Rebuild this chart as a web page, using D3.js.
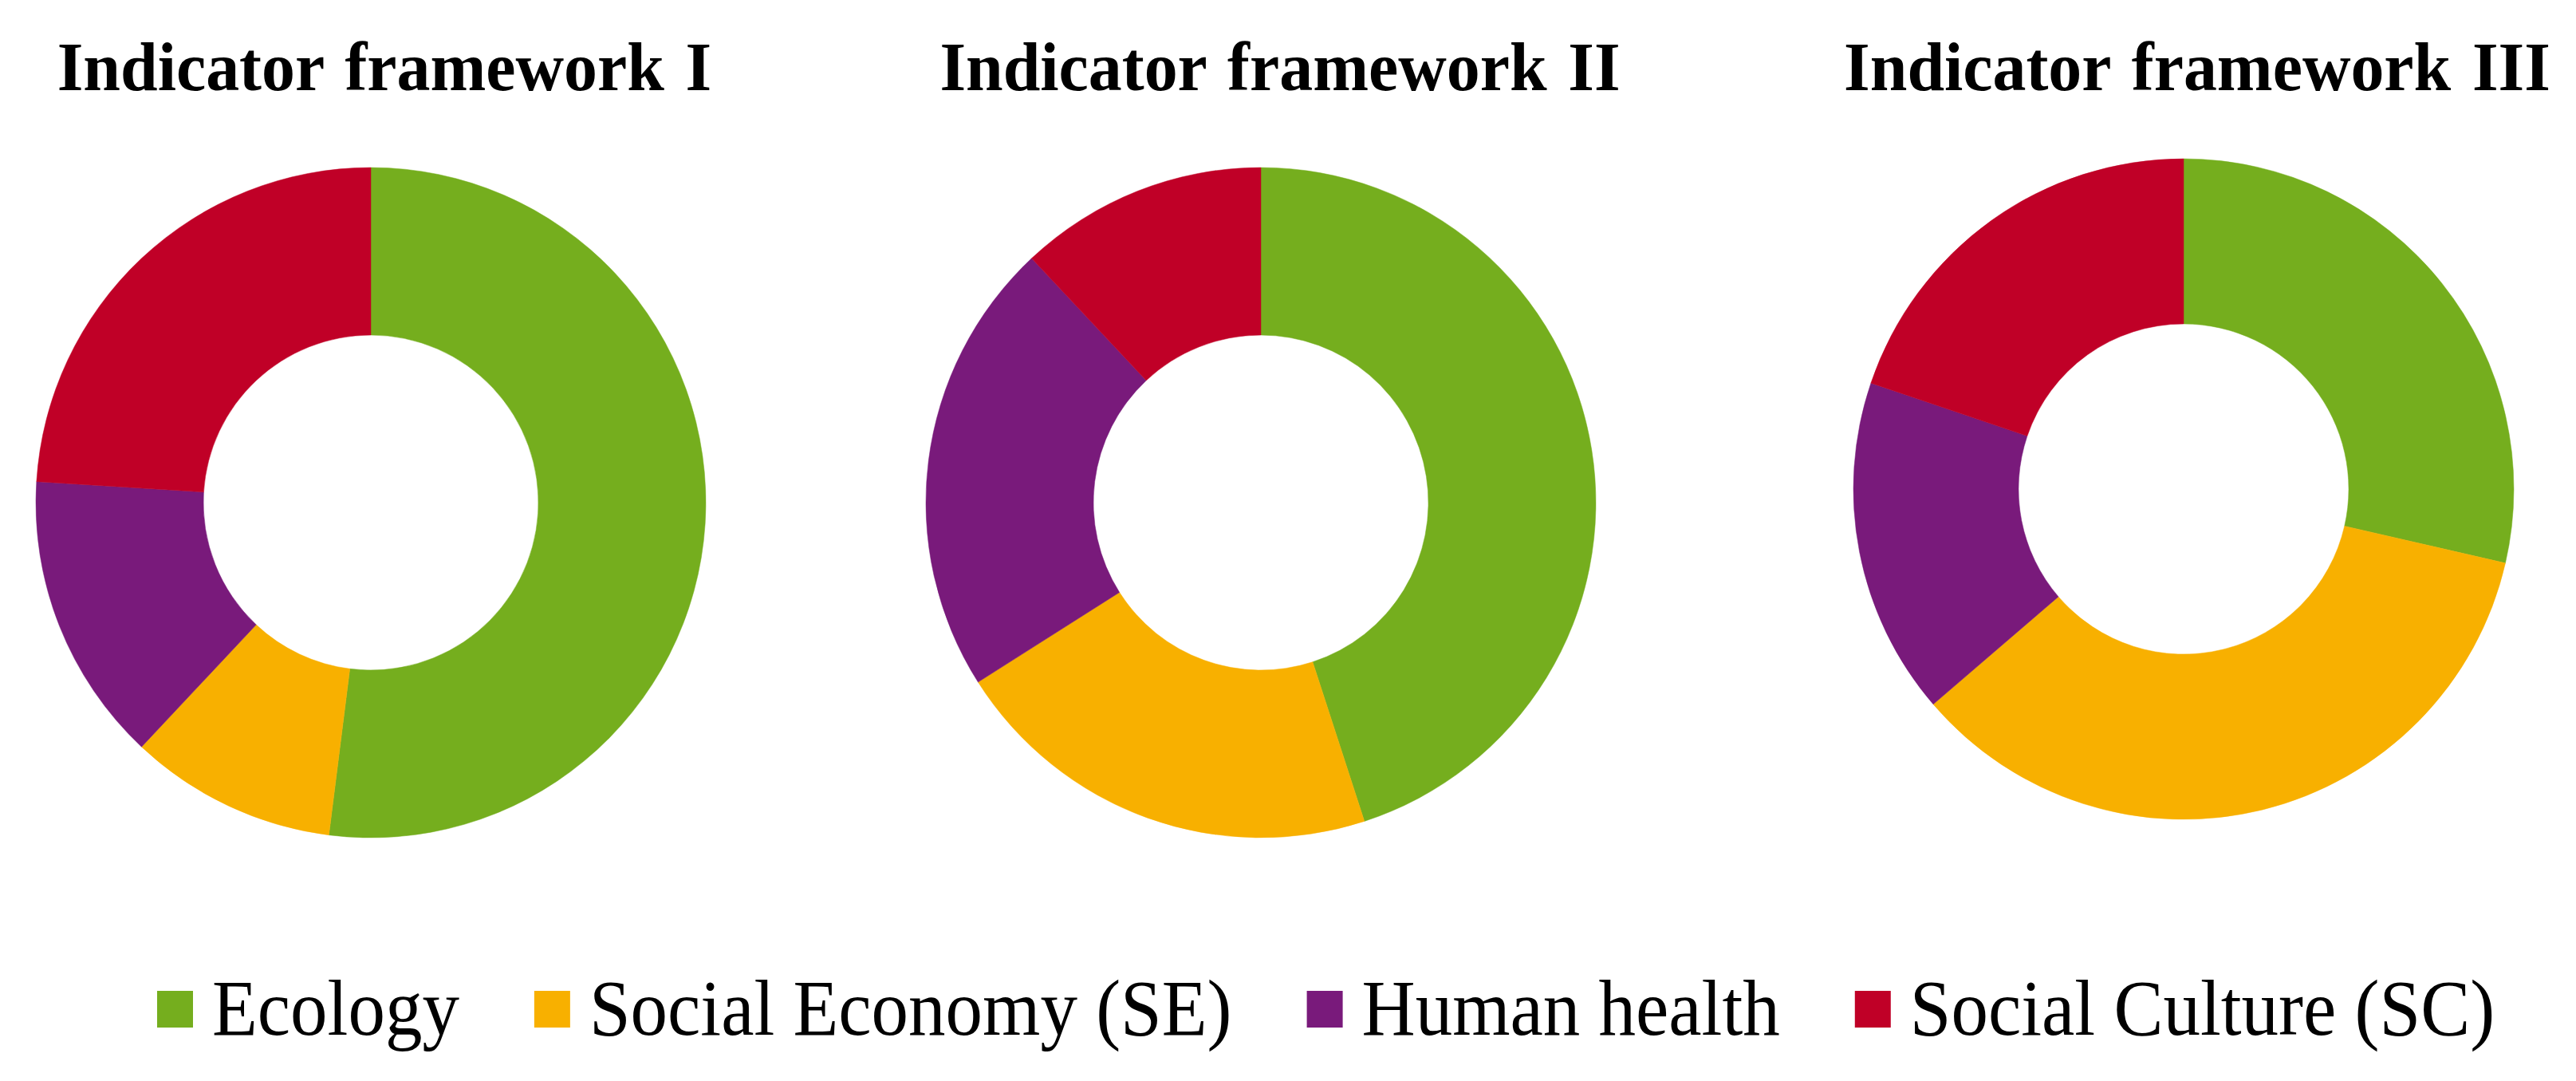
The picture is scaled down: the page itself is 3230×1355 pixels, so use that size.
<!DOCTYPE html>
<html>
<head>
<meta charset="utf-8">
<script src="https://cdn.jsdelivr.net/npm/d3@7/dist/d3.min.js"></script>
<style>
  html, body { margin: 0; padding: 0; background: #fff; }
  svg { display: block; }
  text { font-family: "Liberation Serif", "Times New Roman", serif; fill: #000; }
</style>
</head>
<body>
<script>
// data (share of indicators per dimension, %)
const categories = ["Ecology", "Social Economy (SE)", "Human health", "Social Culture (SC)"];
const frameworks = ["Indicator framework I", "Indicator framework II", "Indicator framework III"];
const framework1 = [52, 10, 14, 24];
const framework2 = [45, 21, 22, 12];
const framework3 = [28.6, 35.1, 16.5, 19.8];
const palette = ["#75AE1E", "#F8B000", "#791A7B", "#C00027"];

const W = 3230, H = 1355;

// layout
const donuts = [
	{ name: frameworks[0], values: framework1, cx: 465, cy: 630, r: 420, tx: 482 },
	{ name: frameworks[1], values: framework2, cx: 1581, cy: 630, r: 420, tx: 1605 },
	{ name: frameworks[2], values: framework3, cx: 2738, cy: 613, r: 414, tx: 2755 }
];
const TITLE_Y = 113, TITLE_SIZE = 86;
const LEGEND_X = 197, LEGEND_BASE = 1297, LEGEND_SIZE = 100,
	SWATCH = 45, SWATCH_GAP = 24, ITEM_GAP = 94, SQUEEZE = 0.93;

const color = d3.scaleOrdinal().domain(categories).range(palette);

const svg = d3.select('body').append('svg')
	.attr('width', W)
	.attr('height', H);

svg.append('rect').attr('width', W).attr('height', H).attr('fill', '#fff');

const pie = d3.pie().sort(null).value(d => d.value);

donuts.forEach(fw => {
	const g = svg.append('g').attr('transform', `translate(${fw.cx},${fw.cy})`);
	const arc = d3.arc().innerRadius(fw.r * 0.5).outerRadius(fw.r);
	const rows = categories.map((c, i) => ({ cat: c, value: fw.values[i] }));

	g.selectAll('path')
		.data(pie(rows))
		.enter().append('path')
		.attr('d', arc)
		.attr('fill', d => color(d.data.cat))
		.attr('stroke', d => color(d.data.cat))
		.attr('stroke-width', 0.5);

	svg.append('text')
		.attr('transform', `translate(${fw.tx},${TITLE_Y}) scale(0.975,1)`)
		.attr('text-anchor', 'middle')
		.style('font-size', TITLE_SIZE + 'px')
		.style('font-weight', 'bold')
		.style('word-spacing', '6px')
		.text(fw.name);
});

/* legend, laid out left to right from measured text widths */
const legend = svg.append('g').attr('class', 'legend');
let x = LEGEND_X;
categories.forEach(c => {
	legend.append('rect')
		.attr('x', x)
		.attr('y', 1242)
		.attr('width', SWATCH)
		.attr('height', SWATCH + 1)
		.attr('fill', color(c));
	const t = legend.append('text')
		.attr('transform', `translate(${x + SWATCH + SWATCH_GAP},${LEGEND_BASE}) scale(${SQUEEZE},1)`)
		.style('font-size', LEGEND_SIZE + 'px')
		.text(c);
	x += SWATCH + SWATCH_GAP + t.node().getComputedTextLength() * SQUEEZE + ITEM_GAP;
});
</script>
</body>
</html>
